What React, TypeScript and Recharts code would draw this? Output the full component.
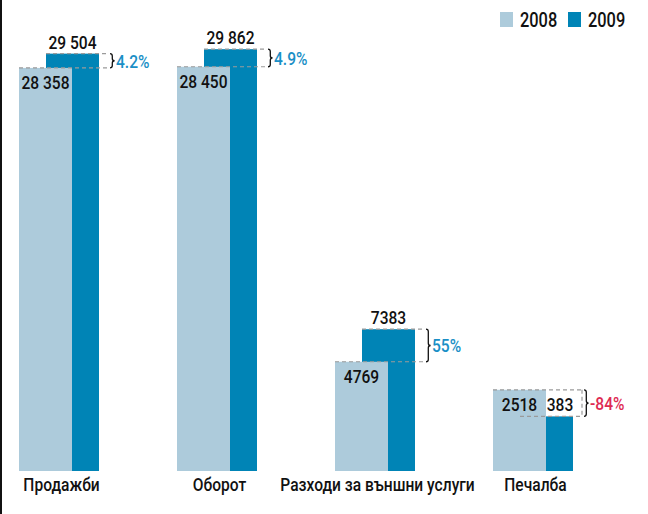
import React from "react";
import { BarChart, Bar, XAxis, YAxis, LabelList } from "recharts";

const categories = ["Продажби", "Оборот", "Разходи за външни услуги", "Печалба"];
const values2008 = [28358, 28450, 4769, 2518];
const values2009 = [29504, 29862, 7383, 383];
const changes = ["4.2%", "4.9%", "55%", "-84%"];
const seriesNames = ["2008", "2009"];

const LIGHT = "#adcbdb";
const DARK = "#0084b6";
const UP = "#1a8fc6";
const DOWN = "#de2a52";
const FONT = "Roboto, 'Liberation Sans', sans-serif";
const BAR = 53;
const SHIFT = 27;

const data = categories.map((name, i) => ({
  name,
  v2008: values2008[i],
  v2009: values2009[i],
}));

const fmt = (v: number) =>
  v >= 10000 ? String(v).replace(/\B(?=(\d{3})+(?!\d))/g, " ") : String(v);

// narrow text: the print font is a condensed one
function CText({ x, y, children, anchor = "start", size = 19, fill = "#111", dy }: any) {
  return (
    <text
      transform={`translate(${x},${y}) scale(0.82,1)`}
      textAnchor={anchor}
      dy={dy}
      fontFamily={FONT}
      fontWeight={500}
      fontSize={size}
      fill={fill}
    >
      {children}
    </text>
  );
}

// bars run down to the bottom of the plot, not to the zero line
function TallBar(props: any) {
  const { x, y, width, height, fill, background } = props;
  const bottom = background ? background.y + background.height : y + height;
  return <rect x={x} y={y} width={width} height={Math.max(0, bottom - y)} fill={fill} />;
}

function brace(x: number, y1: number, y2: number) {
  const w = 2.3;
  const mid = (y1 + y2) / 2;
  return `M${x},${y1} Q${x + w},${y1} ${x + w},${y1 + w} L${x + w},${mid - w} Q${x + w},${mid} ${x + 2 * w},${mid} Q${x + w},${mid} ${x + w},${mid + w} L${x + w},${y2 - w} Q${x + w},${y2} ${x},${y2}`;
}

function Label2009(props: any) {
  const vb = props.viewBox ?? props;
  const { x, y, width, height } = vb;
  const i = props.index;
  const v09 = values2009[i];
  const v08 = values2008[i];
  const zero = y + height;
  const y08 = zero - ((zero - y) * v08) / v09;
  const right = x + width + 9;
  const top = Math.min(y, y08);
  const bot = Math.max(y, y08);
  const change = changes[i];
  const fell = v09 < v08;
  // when 2009 is lower its number sits over the visible part of the bar
  const labelX = fell ? x + SHIFT + (width - SHIFT) / 2 : x + width / 2;
  const dash = { stroke: "#9a9a9a", strokeWidth: 1.2, strokeDasharray: "4 3" };
  return (
    <g>
      <line x1={x} x2={right} y1={y} y2={y} {...dash} />
      <line x1={x - SHIFT} x2={right} y1={y08} y2={y08} {...dash} />
      {fell && <line x1={right} x2={right} y1={top} y2={bot} {...dash} />}
      <path d={brace(right + 2, top, bot)} fill="none" stroke="#111" strokeWidth={1.3} />
      <CText x={labelX} y={y - 5} anchor="middle">
        {fmt(v09)}
      </CText>
      <CText x={right + 8} y={(top + bot) / 2} dy="0.36em" fill={fell ? DOWN : UP}>
        {change}
      </CText>
    </g>
  );
}

function Label2008(props: any) {
  const vb = props.viewBox ?? props;
  const { x, y, width } = vb;
  return (
    <CText x={x + width / 2} y={y + 21} anchor="middle">
      {fmt(values2008[props.index])}
    </CText>
  );
}

function CategoryTick(props: any) {
  const { x, y, payload } = props;
  return (
    <CText x={x} y={y + 20} anchor="middle">
      {payload.value}
    </CText>
  );
}

export default function App() {
  return (
    <div
      style={{
        position: "absolute",
        left: 0,
        top: 0,
        width: 648,
        height: 514,
        overflow: "hidden",
        background: "#fff",
      }}
    >
      <div style={{ position: "absolute", left: 0, top: 0, width: 2, height: 514, background: "#111" }} />
      <div style={{ position: "absolute", left: -34, top: 0 }}>
        <BarChart width={659} height={514} data={data} margin={{ top: 35, right: 0, bottom: 0, left: 0 }}>
          <XAxis
            xAxisId="c"
            dataKey="name"
            height={43}
            interval={0}
            axisLine={false}
            tickLine={false}
            tickSize={0}
            tickMargin={0}
            padding={{ left: 16.5, right: 10.5 }}
            tick={<CategoryTick />}
          />
          <XAxis xAxisId="a" dataKey="name" hide height={0} padding={{ left: 0, right: SHIFT }} />
          <XAxis xAxisId="b" dataKey="name" hide height={0} padding={{ left: SHIFT, right: 0 }} />
          <YAxis hide type="number" domain={[-4000, 31000]} />
          <Bar xAxisId="b" dataKey="v2009" fill={DARK} barSize={BAR} shape={TallBar} isAnimationActive={false}>
            <LabelList dataKey="v2009" content={Label2009} />
          </Bar>
          <Bar xAxisId="a" dataKey="v2008" fill={LIGHT} barSize={BAR} shape={TallBar} isAnimationActive={false}>
            <LabelList dataKey="v2008" content={Label2008} />
          </Bar>
        </BarChart>
      </div>
      <svg style={{ position: "absolute", left: 490, top: 0 }} width={158} height={40}>
        <rect x={10} y={12} width={13} height={15} fill={LIGHT} />
        <CText x={30} y={27} size={20}>
          {seriesNames[0]}
        </CText>
        <rect x={78} y={12} width={13} height={15} fill={DARK} />
        <CText x={98} y={27} size={20}>
          {seriesNames[1]}
        </CText>
      </svg>
    </div>
  );
}
